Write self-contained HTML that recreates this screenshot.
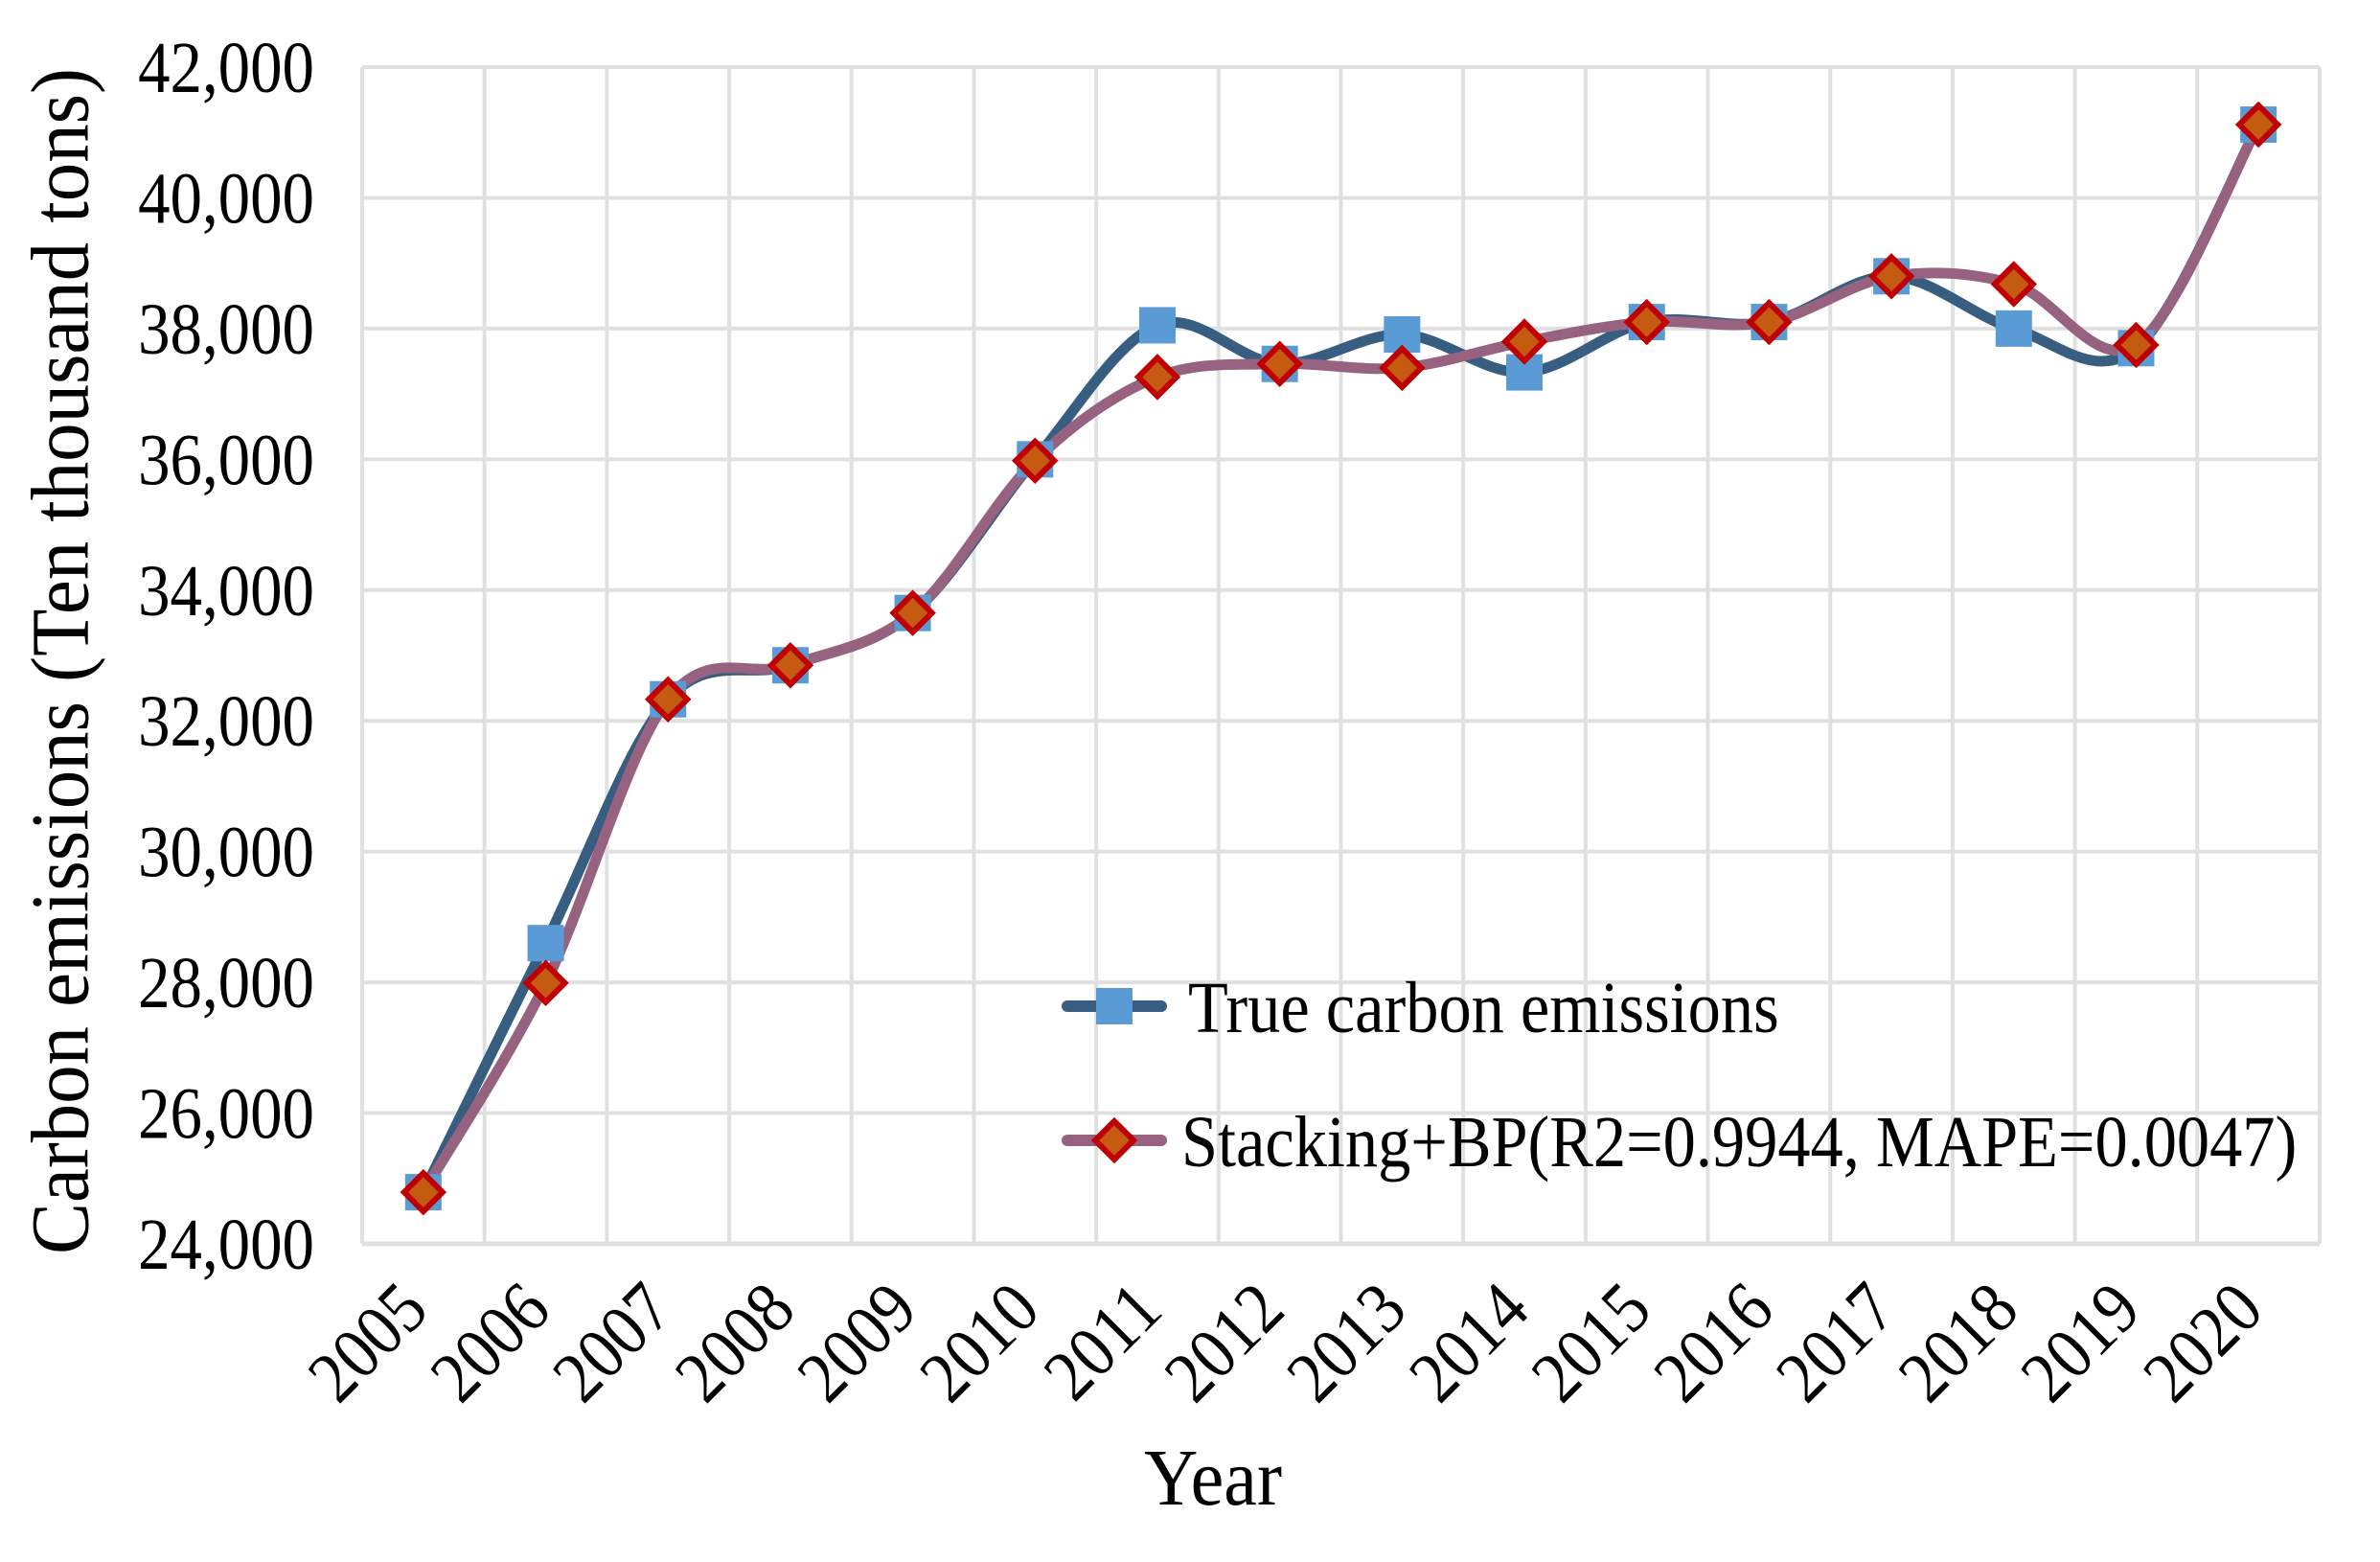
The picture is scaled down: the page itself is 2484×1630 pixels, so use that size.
<!DOCTYPE html>
<html><head><meta charset="utf-8"><style>
html,body{margin:0;padding:0;background:#fff;}
svg{display:block;font-family:"Liberation Serif",serif;}
</style></head><body>
<svg id="chart" width="2484" height="1630" viewBox="0 0 2484 1630" xmlns="http://www.w3.org/2000/svg">
<g id="grid"></g>
<g id="yticks"></g>
<g id="xticks"></g>
<g id="series"></g>
<text font-size="86" text-anchor="middle" dominant-baseline="middle" transform="translate(72 690) rotate(-90) scale(0.94 1)">Carbon emissions (Ten thousand tons)</text>
<text font-size="84" text-anchor="middle" transform="translate(1266 1570) scale(0.93 1)">Year</text>
<g>
  <g>
    <line x1="1114" y1="1050" x2="1212" y2="1050" stroke="#375E80" stroke-width="12" stroke-linecap="round"/>
    <rect x="1144" y="1031" width="38" height="38" fill="#5B9BD5"/>
    <text font-size="76" transform="translate(1240 1077) scale(0.9 1)">True carbon emissions</text>
  </g>
  <g>
    <line x1="1114" y1="1190" x2="1212" y2="1190" stroke="#96627F" stroke-width="12" stroke-linecap="round"/>
    <polygon points="1163,1170 1183,1190 1163,1210 1143,1190" fill="#C55A11" stroke="#C00000" stroke-width="6"/>
    <text font-size="76" transform="translate(1233 1217) scale(0.9 1)">Stacking+BP(R2=0.9944, MAPE=0.0047)</text>
  </g>
</g>
</svg>
<script>
const years = ["2005","2006","2007","2008","2009","2010","2011","2012","2013","2014","2015","2016","2017","2018","2019","2020"];
const trueValues = [24790, 28600, 32330, 32850, 33650, 36000, 38050, 37460, 37910, 37330, 38100, 38100, 38800, 38000, 37700, 41120];
const predValues = [24790, 27990, 32330, 32850, 33650, 35980, 37260, 37460, 37400, 37800, 38100, 38100, 38800, 38680, 37750, 41120];
const yTicks = [24000, 26000, 28000, 30000, 32000, 34000, 36000, 38000, 40000, 42000];

const NS = "http://www.w3.org/2000/svg";
const L = 378, R = 2421, T = 70, B = 1298;
const yMin = 24000, yMax = 42000;
const band = (R - L) / years.length;
const xs = i => L + band * (i + 0.5);
const ys = v => B - (v - yMin) / (yMax - yMin) * (B - T);
function mk(tag, attrs, parent) {
  const e = document.createElementNS(NS, tag);
  for (const k in attrs) e.setAttribute(k, attrs[k]);
  parent.appendChild(e);
  return e;
}
const grid = document.getElementById('grid');
const yt = document.getElementById('yticks');
const xt = document.getElementById('xticks');
const ser = document.getElementById('series');

yTicks.forEach(v => {
  const y = ys(v);
  const ln = mk('line', {x1: L, x2: R, y1: y, y2: y, stroke: '#E0E0E0', 'stroke-width': v === yMin ? 5 : 4}, grid);
  
  
  const t = mk('text', {'font-size': 76, 'text-anchor': 'end', transform: `translate(328 ${y + 26}) scale(0.88 1)`}, yt);
  t.textContent = v.toLocaleString('en-US');
  
  
});
for (let i = 0; i <= years.length; i++) {
  const x = L + band * i;
  const ln = mk('line', {x1: x, x2: x, y1: T, y2: B, stroke: '#E0E0E0', 'stroke-width': 4}, grid);
  
  
}
years.forEach((yr, i) => {
  const x = xs(i) + 8, y = 1370;
  const t = mk('text', {'font-size': 76, 'text-anchor': 'end', transform: `translate(${x} ${y}) rotate(-45) scale(0.9 1)`}, xt);
  t.textContent = yr;
  
  
});

function smoothPath(vals) {
  const p = vals.map((v, i) => [xs(i), ys(v)]);
  let d = `M${p[0][0]},${p[0][1]}`;
  for (let i = 0; i < p.length - 1; i++) {
    const p0 = p[i - 1] || p[i], p1 = p[i], p2 = p[i + 1], p3 = p[i + 2] || p[i + 1];
    const c1 = [p1[0] + (p2[0] - p0[0]) / 6, p1[1] + (p2[1] - p0[1]) / 6];
    const c2 = [p2[0] - (p3[0] - p1[0]) / 6, p2[1] - (p3[1] - p1[1]) / 6];
    d += ` C${c1[0]},${c1[1]} ${c2[0]},${c2[1]} ${p2[0]},${p2[1]}`;
  }
  return d;
}
const l1 = mk('path', {d: smoothPath(trueValues), fill: 'none', stroke: '#375E80', 'stroke-width': 11, 'stroke-linejoin': 'round'}, ser);


const l2 = mk('path', {d: smoothPath(predValues), fill: 'none', stroke: '#96627F', 'stroke-width': 11, 'stroke-linejoin': 'round'}, ser);


trueValues.forEach((v, i) => {
  const r = mk('rect', {x: xs(i) - 19, y: ys(v) - 19, width: 38, height: 38, fill: '#5B9BD5'}, ser);
  
  
});
predValues.forEach((v, i) => {
  const x = xs(i), y = ys(v);
  const d = mk('polygon', {points: `${x},${y - 20} ${x + 20},${y} ${x},${y + 20} ${x - 20},${y}`, fill: '#C55A11', stroke: '#C00000', 'stroke-width': 6}, ser);
  
  
});
</script>
</body></html>
